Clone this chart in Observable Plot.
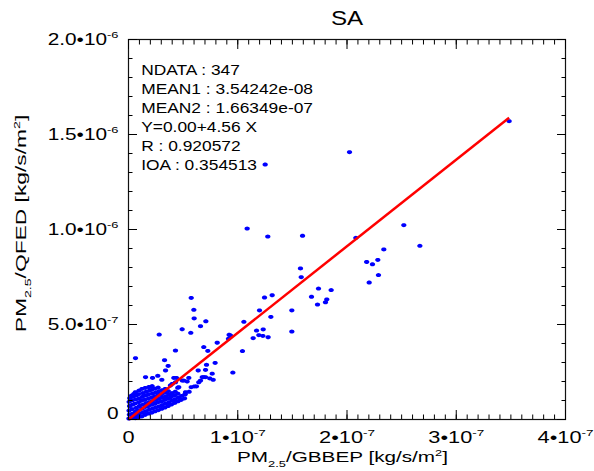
<!DOCTYPE html>
<html><head><meta charset="utf-8">
<script src="https://cdn.jsdelivr.net/npm/d3@7"></script>
<script src="https://cdn.jsdelivr.net/npm/@observablehq/plot@0.6"></script>
<style>
html,body{margin:0;padding:0;background:#fff;}
svg{display:block;}
</style></head><body><div id="chart"></div>
<script>
// ---- chart content ----
const title = "SA";
const xLabel = "PM_{2.5}/GBBEP [kg/s/m^{2}]";
const yLabel = "PM_{2.5}/QFED [kg/s/m^{2}]";
const xTicks = [0, 1e-7, 2e-7, 3e-7, 4e-7];
const xTickLabels = ["0", "1•10^{-7}", "2•10^{-7}", "3•10^{-7}", "4•10^{-7}"];
const yTicks = [0, 5e-7, 1e-6, 1.5e-6, 2e-6];
const yTickLabels = ["0", "5.0•10^{-7}", "1.0•10^{-6}", "1.5•10^{-6}", "2.0•10^{-6}"];
const statsLines = ["NDATA : 347", "MEAN1 : 3.54242e-08", "MEAN2 : 1.66349e-07",
  "Y=0.00+4.56 X", "R : 0.920572", "IOA : 0.354513"];
const fitIntercept = 0.00;
const fitSlope = 4.56;
// scatter points: [GBBEP in 1e-8 kg/s/m2, QFED in 1e-7 kg/s/m2]
const points = [
  [34.84,15.70],[20.23,14.07],[12.51,13.42],[10.86,10.05],[12.75,9.63],[15.93,9.67],[20.81,9.56],
  [15.74,7.95],[15.81,7.49],[21.80,8.29],[22.33,8.17],[22.82,8.40],[22.88,7.60],[22.03,7.21],
  [25.20,10.23],[26.67,9.14],[23.37,8.95],[18.55,6.81],[17.39,6.89],[16.75,6.46],[18.15,6.32],
  [18.03,6.17],[17.30,6.05],[13.15,6.54],[12.45,6.42],[11.99,5.74],[14.95,5.74],[13.03,5.40],
  [10.56,5.14],[11.72,4.68],[12.33,4.74],[14.95,4.63],[11.93,4.44],[12.30,4.40],[12.78,4.33],
  [11.41,4.28],[9.34,4.42],[10.43,3.60],[9.55,2.47],
  [5.74,6.40],[5.98,5.77],[6.01,5.32],[7.08,5.17],[6.59,4.91],[5.70,4.56],[2.81,4.47],[4.91,4.75],
  [9.21,4.46],[9.15,4.25],[8.12,4.04],[6.89,3.81],[7.26,3.61],[4.30,3.63],[0.64,3.23],[3.30,3.12],
  [3.63,2.82],[3.39,2.58],[7.14,2.88],[7.93,2.98],[6.38,2.58],[7.05,2.61],
  [1.56,2.23],[2.20,2.19],[2.68,2.30],[3.05,2.09],[4.15,2.19],[4.39,2.19],[4.92,2.05],[5.06,2.05],
  [5.52,2.19],[5.37,2.00],[4.51,1.67],[4.76,1.04],[5.19,1.35],[5.55,1.46],[5.74,1.70],[6.04,1.74],
  [6.43,1.96],[6.59,2.05],[6.75,2.23],[6.89,2.23],[7.44,2.16],[7.75,2.09],[6.22,1.74],[3.84,1.17],
  [4.00,1.87],[0.27,1.26],[7.05,2.23],[7.66,2.41],[4.60,1.70],[4.30,1.96],[3.84,1.79],[5.22,1.44],
  [0.49,1.35],
  [0.04,0.05],[0.08,0.26],[0.05,0.47],[0.10,0.71],[0.06,0.93],[0.12,1.12],
  [0.33,0.12],[0.36,0.31],[0.31,0.55],[0.38,0.78],[0.34,1.01],[0.41,1.20],
  [0.62,0.07],[0.67,0.23],[0.64,0.43],[0.69,0.61],[0.60,0.84],[0.66,1.06],[0.71,1.27],[0.63,1.44],
  [0.93,0.13],[0.97,0.31],[0.92,0.49],[0.99,0.71],[0.94,0.91],[0.98,1.11],[0.91,1.33],[0.96,1.52],
  [1.22,0.16],[1.27,0.35],[1.24,0.56],[1.29,0.77],[1.21,0.99],[1.26,1.19],[1.30,1.39],[1.23,1.61],
  [1.52,0.24],[1.57,0.44],[1.55,0.66],[1.59,0.86],[1.51,1.04],[1.56,1.26],[1.60,1.46],[1.53,1.66],
  [1.83,0.31],[1.87,0.51],[1.82,0.71],[1.88,0.91],[1.85,1.11],[1.81,1.31],[1.89,1.51],[1.86,1.71],
  [2.13,0.36],[2.17,0.56],[2.12,0.77],[2.18,0.97],[2.14,1.16],[2.19,1.36],[2.11,1.56],[2.16,1.76],
  [2.43,0.43],[2.47,0.63],[2.42,0.83],[2.48,1.03],[2.44,1.23],[2.49,1.43],[2.41,1.63],
  [2.73,0.49],[2.77,0.69],[2.72,0.91],[2.78,1.09],[2.74,1.29],[2.79,1.49],[2.71,1.68],
  [3.03,0.56],[3.07,0.76],[3.02,0.96],[3.08,1.16],[3.04,1.34],[3.09,1.54],
  [3.33,0.63],[3.37,0.83],[3.32,1.03],[3.38,1.21],[3.34,1.41],[3.36,1.61],
  [3.63,0.71],[3.67,0.89],[3.62,1.09],[3.68,1.31],[3.64,1.49],
  [3.93,0.79],[3.97,0.99],[3.92,1.21],[3.98,1.39],
  [4.23,0.87],[4.27,1.07],[4.22,1.27],[4.28,1.46],
  [4.53,0.96],[4.57,1.16],[4.52,1.36],
  [4.83,1.04],[4.87,1.24],[5.13,1.11],[5.17,1.31]
];

// ---- drawing ----
const fontFamily = '"Liberation Sans", Arial, Helvetica, sans-serif';
const pts = points.map(([a, b]) => ({x: a * 1e-8, y: b * 1e-7}));
const xEnd = d3.max(pts, d => d.x);
const fitLine = [{x1: 0, y1: fitIntercept, x2: xEnd, y2: fitIntercept + fitSlope * xEnd}];
const xMinor = d3.range(0, 41).map(i => i * 1e-8);
const yMinor = d3.range(0, 21).map(i => i * 1e-7);

const ellipse = {
  draw(ctx, size) {
    const r = Math.sqrt(size / Math.PI), rx = r * 1.15, ry = r * 0.87, n = 20;
    for (let i = 0; i < n; ++i) {
      const a = 2 * Math.PI * i / n, px = rx * Math.cos(a), py = ry * Math.sin(a);
      if (i) ctx.lineTo(px, py); else ctx.moveTo(px, py);
    }
    ctx.closePath();
  }
};
const noText = () => "";
const chart = Plot.plot({
  width: 594, height: 471,
  marginLeft: 128, marginRight: 29, marginTop: 39, marginBottom: 52,
  style: {fontFamily, background: "white", color: "black"},
  x: {domain: [0, 4e-7], label: null},
  y: {domain: [0, 2e-6], label: null},
  marks: [
    Plot.dot(pts, {x: "x", y: "y", r: 2.3, symbol: ellipse, fill: "#0000ff", stroke: null}),
    Plot.link(fitLine, {x1: "x1", y1: "y1", x2: "x2", y2: "y2", stroke: "#ff0000", strokeWidth: 2.5}),
    Plot.frame({stroke: "#111", strokeWidth: 1.2}),
    Plot.axisX(xTicks, {anchor: "bottom", tickSize: -9, tickFormat: noText, label: null}),
    Plot.axisX(xTicks, {anchor: "top", tickSize: -9, tickFormat: noText, label: null}),
    Plot.axisX(xMinor, {anchor: "bottom", tickSize: -4.5, tickFormat: noText, label: null}),
    Plot.axisX(xMinor, {anchor: "top", tickSize: -4.5, tickFormat: noText, label: null}),
    Plot.axisY(yTicks, {anchor: "left", tickSize: -9, tickFormat: noText, label: null}),
    Plot.axisY(yTicks, {anchor: "right", tickSize: -9, tickFormat: noText, label: null}),
    Plot.axisY(yMinor, {anchor: "left", tickSize: -4.5, tickFormat: noText, label: null}),
    Plot.axisY(yMinor, {anchor: "right", tickSize: -4.5, tickFormat: noText, label: null}),
    Plot.axisX(xTicks, {anchor: "bottom", tickSize: 0, tickPadding: 12, fontSize: 16,
      tickFormat: d => xTickLabels[xTicks.indexOf(d)], label: null}),
    Plot.axisY(yTicks, {anchor: "left", tickSize: 0, tickPadding: 10, fontSize: 16,
      tickFormat: d => yTickLabels[yTicks.indexOf(d)], label: null}),
    Plot.text([title], {frameAnchor: "top", lineAnchor: "middle", dy: -21, fontSize: 21}),
    ...statsLines.map((line, i) => Plot.text([line], {frameAnchor: "top-left", textAnchor: "start",
      lineAnchor: "middle", dx: 12.7, dy: 31.5 + 19 * i, fontSize: 14})),
    Plot.text([xLabel], {frameAnchor: "bottom", lineAnchor: "middle", dx: -4.5, dy: 38, fontSize: 15}),
    Plot.text([yLabel], {frameAnchor: "left", rotate: -90, textAnchor: "middle", lineAnchor: "middle",
      dx: -107, dy: -6, fontSize: 15})
  ]
});
document.getElementById("chart").append(chart);

// ---- rich text (sub/superscripts) and wide-font stretching ----
function rich(el) {
  const s = el.textContent;
  if (!/[_^]\{/.test(s)) return;
  const fs = parseFloat(getComputedStyle(el).fontSize);
  el.textContent = "";
  const re = /([_^])\{([^}]*)\}/g;
  let last = 0, m, pending = 0;
  const add = (txt, size, dy) => {
    const t = document.createElementNS("http://www.w3.org/2000/svg", "tspan");
    if (size) t.setAttribute("font-size", size);
    if (dy) t.setAttribute("dy", dy);
    t.textContent = txt;
    el.appendChild(t);
  };
  while ((m = re.exec(s))) {
    if (m.index > last) { add(s.slice(last, m.index), null, pending); pending = 0; }
    const shift = m[1] === "^" ? -0.42 * fs : 0.28 * fs;
    add(m[2], 0.62 * fs, shift + pending);
    pending = -shift;
    last = re.lastIndex;
  }
  if (last < s.length) add(s.slice(last), null, pending);
}
function stretch(el, k) {
  const w = el.getComputedTextLength();
  el.setAttribute("textLength", (w * k).toFixed(1));
  el.setAttribute("lengthAdjust", "spacingAndGlyphs");
}
d3.select(chart).selectAll("text").each(function () {
  const s = this.textContent;
  if (!s) return;
  const gl = this.parentNode.getAttribute("aria-label") || "";
  let k = null, fsz = null;
  if (gl.includes("x-axis tick label")) { k = 1.36; fsz = 16; }
  else if (gl.includes("y-axis tick label")) { k = 1.3; fsz = 16; }
  else if (s === title) k = 1.15;
  else if (statsLines.includes(s)) k = 1.24;
  else if (s === xLabel) k = 1.38;
  else if (s === yLabel) k = 1.52;
  if (k === null) return;
  if (fsz) this.setAttribute("font-size", fsz);
  rich(this);
  stretch(this, k);
  if (gl.includes("y-axis tick label") && s === "0") {
    this.setAttribute("transform", this.getAttribute("transform") + " translate(0,-6)");
  }
});
</script></body></html>
